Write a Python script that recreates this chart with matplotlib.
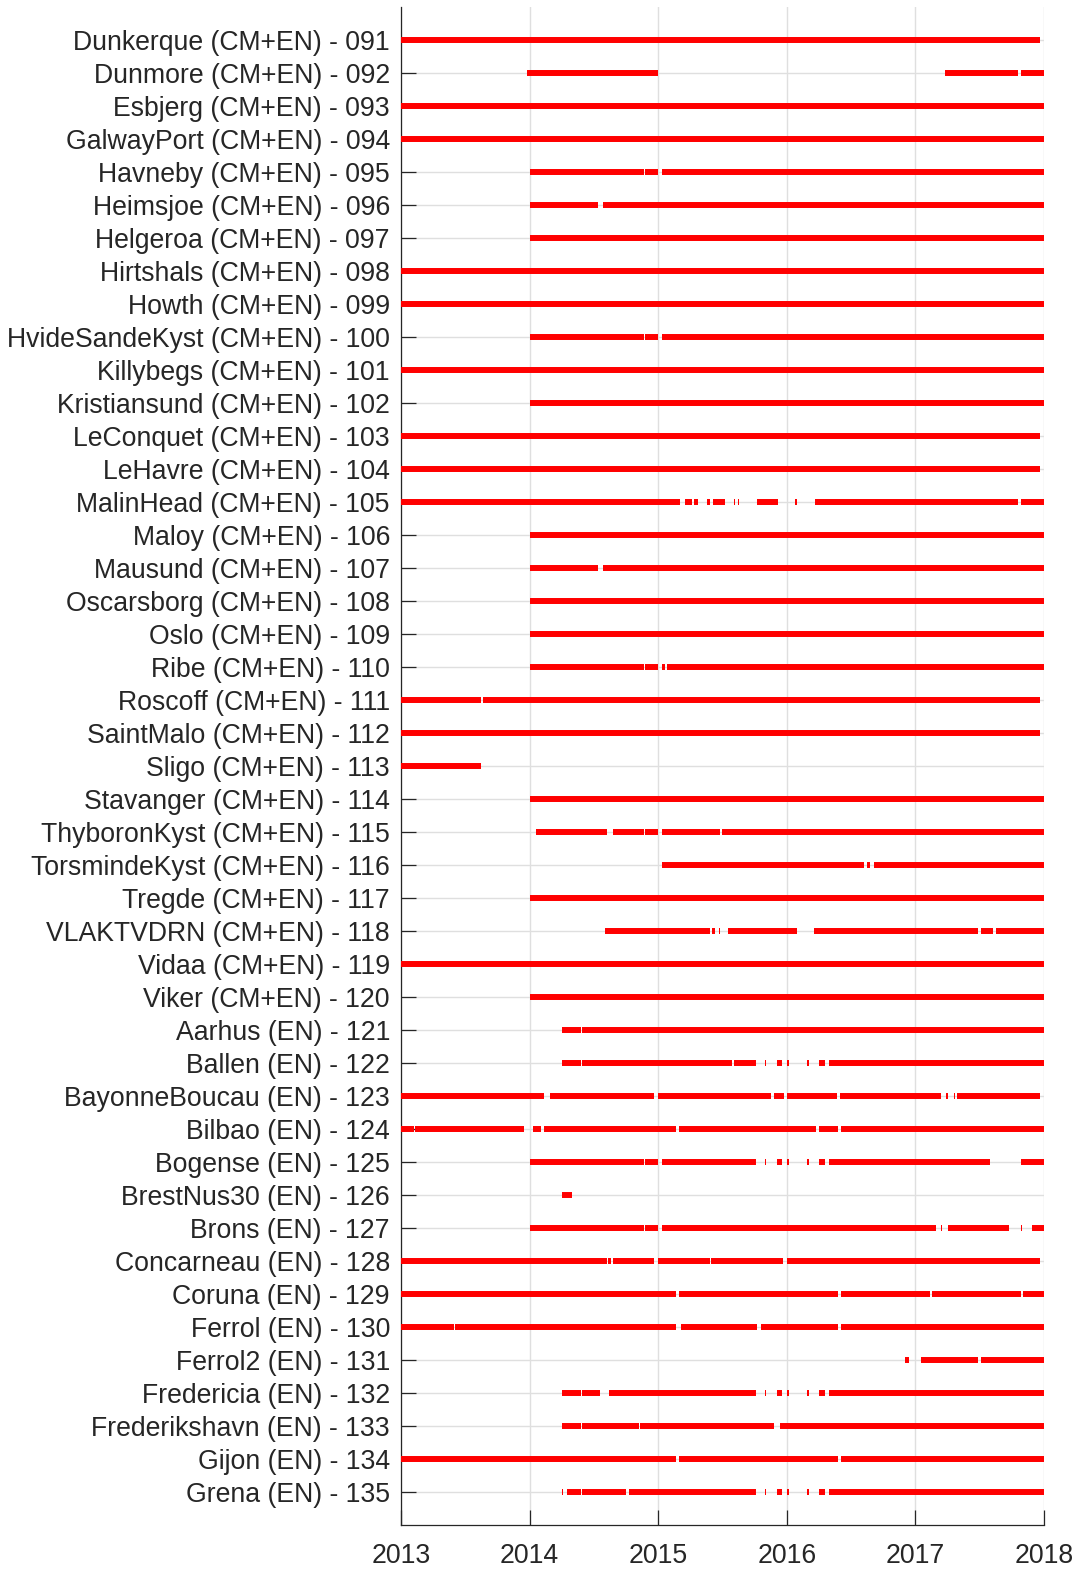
import numpy as np
import matplotlib.pyplot as plt

plt.rcParams['font.family'] = ['Liberation Sans', 'DejaVu Sans']

stations = [
    "Dunkerque (CM+EN) - 091", "Dunmore (CM+EN) - 092", "Esbjerg (CM+EN) - 093",
    "GalwayPort (CM+EN) - 094", "Havneby (CM+EN) - 095", "Heimsjoe (CM+EN) - 096",
    "Helgeroa (CM+EN) - 097", "Hirtshals (CM+EN) - 098", "Howth (CM+EN) - 099",
    "HvideSandeKyst (CM+EN) - 100", "Killybegs (CM+EN) - 101", "Kristiansund (CM+EN) - 102",
    "LeConquet (CM+EN) - 103", "LeHavre (CM+EN) - 104", "MalinHead (CM+EN) - 105",
    "Maloy (CM+EN) - 106", "Mausund (CM+EN) - 107", "Oscarsborg (CM+EN) - 108",
    "Oslo (CM+EN) - 109", "Ribe (CM+EN) - 110", "Roscoff (CM+EN) - 111",
    "SaintMalo (CM+EN) - 112", "Sligo (CM+EN) - 113", "Stavanger (CM+EN) - 114",
    "ThyboronKyst (CM+EN) - 115", "TorsmindeKyst (CM+EN) - 116", "Tregde (CM+EN) - 117",
    "VLAKTVDRN (CM+EN) - 118", "Vidaa (CM+EN) - 119", "Viker (CM+EN) - 120",
    "Aarhus (EN) - 121", "Ballen (EN) - 122", "BayonneBoucau (EN) - 123",
    "Bilbao (EN) - 124", "Bogense (EN) - 125", "BrestNus30 (EN) - 126",
    "Brons (EN) - 127", "Concarneau (EN) - 128", "Coruna (EN) - 129",
    "Ferrol (EN) - 130", "Ferrol2 (EN) - 131", "Fredericia (EN) - 132",
    "Frederikshavn (EN) - 133", "Gijon (EN) - 134", "Grena (EN) - 135",
]

# data availability periods (decimal years), one list per station
periods = [
    [(2013, 2017.97)],
    [(2013.98, 2015.0), (2017.23, 2017.80), (2017.82, 2018)],
    [(2013, 2018)],
    [(2013, 2018)],
    [(2014, 2014.89), (2014.90, 2015.0), (2015.03, 2018)],
    [(2014, 2014.53), (2014.57, 2018)],
    [(2014, 2018)],
    [(2013, 2018)],
    [(2013, 2018)],
    [(2014, 2014.89), (2014.90, 2015.0), (2015.03, 2018)],
    [(2013, 2018)],
    [(2014, 2018)],
    [(2013, 2017.97)],
    [(2013, 2017.97)],
    [(2013, 2015.17), (2015.21, 2015.26), (2015.28, 2015.31), (2015.38, 2015.40),
     (2015.43, 2015.52), (2015.59, 2015.60), (2015.62, 2015.63), (2015.77, 2015.93),
     (2016.06, 2016.08), (2016.22, 2017.80), (2017.82, 2018)],
    [(2014, 2018)],
    [(2014, 2014.53), (2014.57, 2018)],
    [(2014, 2018)],
    [(2014, 2018)],
    [(2014, 2014.89), (2014.90, 2015.0), (2015.03, 2015.05), (2015.07, 2018)],
    [(2013, 2013.62), (2013.64, 2017.97)],
    [(2013, 2017.97)],
    [(2013, 2013.62)],
    [(2014, 2018)],
    [(2014.05, 2014.60), (2014.65, 2014.89), (2014.90, 2015.0), (2015.03, 2015.48),
     (2015.50, 2018)],
    [(2015.03, 2016.60), (2016.62, 2016.65), (2016.68, 2018)],
    [(2014, 2018)],
    [(2014.59, 2015.40), (2015.42, 2015.44), (2015.47, 2015.48), (2015.54, 2016.08),
     (2016.21, 2017.49), (2017.51, 2017.60), (2017.63, 2018)],
    [(2013, 2018)],
    [(2014, 2018)],
    [(2014.25, 2014.40), (2014.41, 2018)],
    [(2014.25, 2014.40), (2014.41, 2015.57), (2015.59, 2015.76), (2015.83, 2015.835),
     (2015.92, 2015.96), (2016.0, 2016.02), (2016.16, 2016.175), (2016.25, 2016.30),
     (2016.33, 2018)],
    [(2013, 2014.11), (2014.16, 2014.97), (2015.0, 2015.88), (2015.90, 2015.98),
     (2016.0, 2016.39), (2016.41, 2017.20), (2017.24, 2017.25), (2017.30, 2017.31),
     (2017.32, 2017.97)],
    [(2013, 2013.10), (2013.11, 2013.96), (2014.03, 2014.09), (2014.11, 2015.14),
     (2015.16, 2016.23), (2016.25, 2016.40), (2016.42, 2018)],
    [(2014, 2014.89), (2014.90, 2015.0), (2015.03, 2015.76), (2015.83, 2015.835),
     (2015.92, 2015.96), (2016.0, 2016.02), (2016.16, 2016.175), (2016.25, 2016.30),
     (2016.33, 2017.58), (2017.82, 2018)],
    [(2014.25, 2014.33)],
    [(2014, 2014.89), (2014.90, 2015.0), (2015.03, 2017.16), (2017.20, 2017.205),
     (2017.25, 2017.73), (2017.82, 2017.83), (2017.91, 2018)],
    [(2013, 2014.60), (2014.61, 2014.63), (2014.65, 2014.97), (2015.0, 2015.40),
     (2015.41, 2015.97), (2016.0, 2017.97)],
    [(2013, 2015.14), (2015.16, 2016.40), (2016.42, 2017.11), (2017.13, 2017.82),
     (2017.84, 2018)],
    [(2013, 2013.41), (2013.42, 2015.14), (2015.18, 2015.77), (2015.80, 2016.40),
     (2016.42, 2018)],
    [(2016.92, 2016.95), (2017.04, 2017.49), (2017.51, 2018)],
    [(2014.25, 2014.40), (2014.41, 2014.55), (2014.62, 2015.76), (2015.83, 2015.835),
     (2015.92, 2015.96), (2016.0, 2016.02), (2016.16, 2016.175), (2016.25, 2016.30),
     (2016.33, 2018)],
    [(2014.25, 2014.40), (2014.41, 2014.85), (2014.86, 2015.90), (2015.95, 2018)],
    [(2013, 2015.14), (2015.16, 2016.40), (2016.42, 2018)],
    [(2014.25, 2014.26), (2014.29, 2014.40), (2014.41, 2014.75), (2014.77, 2015.76),
     (2015.83, 2015.835), (2015.92, 2015.96), (2016.0, 2016.02), (2016.16, 2016.175),
     (2016.25, 2016.30), (2016.33, 2018)],
]

years = [2013, 2014, 2015, 2016, 2017, 2018]

fig = plt.figure(figsize=(10.87, 15.83), dpi=100)
ax = fig.add_axes([401 / 1087, 1 - 1525 / 1583, 643 / 1087, 1518 / 1583])

for i, segs in enumerate(periods):
    y = i + 1
    for start, end in segs:
        ax.hlines(y, start, end, color='red', lw=4.3, capstyle='butt', zorder=3)

ax.set_xlim(2013, 2018)
ax.set_ylim(len(stations) + 1, 0)
ax.set_xticks(years)
ax.set_xticklabels([str(v) for v in years])
ax.set_yticks(np.arange(1, len(stations) + 1))
ax.set_yticklabels(stations)

ax.set_axisbelow(True)
ax.grid(True, color='#dfdfdf', lw=1.0)
for s in ['top', 'right']:
    ax.spines[s].set_visible(False)
for s in ['left', 'bottom']:
    ax.spines[s].set_color('#262626')
    ax.spines[s].set_linewidth(0.9)
ax.tick_params(axis='y', direction='in', length=11, width=0.9, color='#262626',
               labelsize=19.2, labelcolor='#262626', pad=8)
ax.tick_params(axis='x', direction='in', length=11, width=0.9, color='#262626',
               labelsize=19.2, labelcolor='#262626', pad=13)

fig.savefig('out.png', dpi=100)
